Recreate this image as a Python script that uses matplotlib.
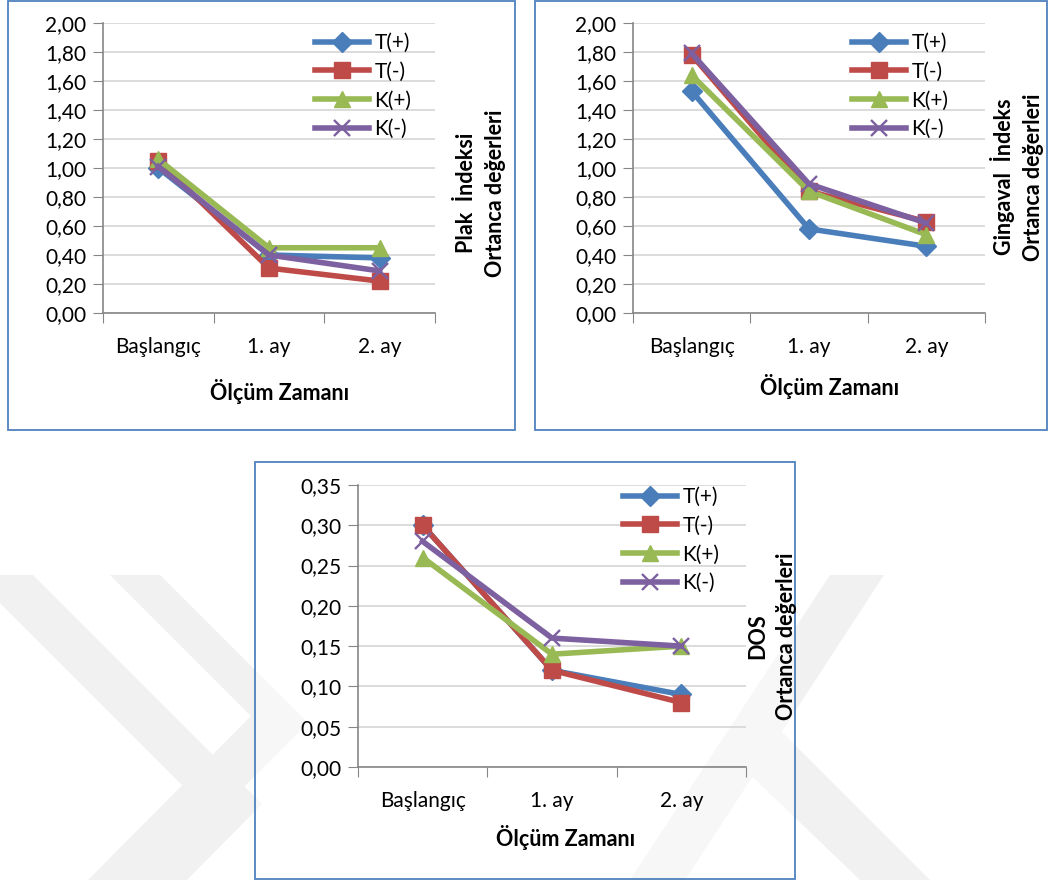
import numpy as np
import matplotlib
matplotlib.use("Agg")
from matplotlib import pyplot as plt
from matplotlib.patches import Rectangle, Polygon

plt.rcParams['font.family'] = ['Lato', 'DejaVu Sans']

categories = ["Başlangıç", "1. ay", "2. ay"]
series_names = ["T(+)", "T(-)", "K(+)", "K(-)"]

plak_tp = [1.00, 0.40, 0.38]
plak_tm = [1.05, 0.31, 0.22]
plak_kp = [1.06, 0.45, 0.45]
plak_km = [1.01, 0.40, 0.29]

ging_tp = [1.53, 0.58, 0.46]
ging_tm = [1.78, 0.84, 0.63]
ging_kp = [1.64, 0.84, 0.54]
ging_km = [1.79, 0.89, 0.62]

dos_tp = [0.30, 0.12, 0.09]
dos_tm = [0.30, 0.12, 0.08]
dos_kp = [0.26, 0.14, 0.15]
dos_km = [0.28, 0.16, 0.15]

colors = ["#4A7EBB", "#BE4B48", "#98B954", "#7D60A0"]
markers = ["D", "s", "^", "x"]
msizes = [10, 11, 11, 11]

W, H = 1050, 881
fig = plt.figure(figsize=(W / 100, H / 100), dpi=100)


def fpoly(pts, **kw):
    pts = [(x / W, 1 - y / H) for x, y in pts]
    fig.patches.append(Polygon(pts, closed=True, transform=fig.transFigure, **kw))


# faint watermark in the background
wm = dict(facecolor="#F1F1F1", edgecolor="none", zorder=-5)
fpoly([(0, 575), (33, 575), (262, 804), (187, 880), (110, 880), (193, 796), (0, 603)], **wm)
fpoly([(110, 575), (160, 575), (308, 723), (151, 880), (88, 880), (251, 716)], **wm)
fpoly([(830, 575), (884, 575), (685, 880), (630, 880)], **wm)
fpoly([(735, 760), (765, 715), (930, 880), (860, 880)], **wm)


def box(x0, y0, x1, y1, fc="none"):
    fig.patches.append(Rectangle((x0 / W, 1 - y1 / H), (x1 - x0) / W, (y1 - y0) / H,
                                 transform=fig.transFigure, facecolor=fc,
                                 edgecolor="#4F81BD", lw=1.3, zorder=-4))


def panel(rect, data, ymax, ystep, ylabel, ylab_xy, xlab_xy, leg_xy):
    x0, y0, x1, y1 = rect
    ax = fig.add_axes([x0 / W, 1 - y1 / H, (x1 - x0) / W, (y1 - y0) / H])
    xs = np.arange(len(categories)) + 0.5
    for vals, c, m, ms, name in zip(data, colors, markers, msizes, series_names):
        mew = 1.7 if m == "x" else 1
        ax.plot(xs, vals, color=c, lw=4, marker=m, ms=ms, mew=mew,
                mec=c, label=name, solid_joinstyle="round")
    ax.set_xlim(0, 3)
    ax.set_ylim(0, ymax)
    yt = np.arange(0, ymax + ystep / 2, ystep)
    ax.set_yticks(yt)
    ax.set_yticklabels(["{:.2f}".format(v).replace(".", ",") for v in yt], fontsize=15)
    ax.set_xticks([0, 1, 2, 3])
    ax.set_xticklabels([])
    ax.set_xticks(xs, minor=True)
    ax.set_xticklabels(categories, minor=True, fontsize=15)
    ax.tick_params(axis="x", which="minor", length=0, pad=17)
    ax.tick_params(axis="x", which="major", length=7, color="#868686", direction="out")
    ax.tick_params(axis="y", length=7, color="#868686", direction="out", pad=5)
    for s in ["top", "right"]:
        ax.spines[s].set_visible(False)
    for s in ["left", "bottom"]:
        ax.spines[s].set_color("#868686")
        ax.spines[s].set_linewidth(1.2)
    ax.yaxis.grid(True, color="#D9D9D9", lw=1.3)
    ax.set_axisbelow(True)
    ax.patch.set_alpha(0)
    ax.legend(loc="upper left", bbox_to_anchor=(leg_xy[0] / W, 1 - leg_xy[1] / H),
              bbox_transform=fig.transFigure, frameon=False, fontsize=15,
              handlelength=2.6, handletextpad=0.25, labelspacing=0.42,
              borderpad=0, borderaxespad=0)
    fig.text(ylab_xy[0] / W, 1 - ylab_xy[1] / H, ylabel, rotation=90,
             ha="center", va="center", fontsize=15.5, fontweight="bold",
             linespacing=1.45)
    fig.text(xlab_xy[0] / W, 1 - xlab_xy[1] / H, "Ölçüm Zamanı", ha="center",
             va="center", fontsize=15.5, fontweight="bold")
    return ax


box(8, 1, 515, 430, fc="white")
box(535, 1, 1047, 430, fc="white")
box(255, 462, 795, 879)
fig.patches.append(Rectangle((256 / W, 1 - 878 / H), 538 / W, 415 / H,
                             transform=fig.transFigure, facecolor="white",
                             edgecolor="none", alpha=0.45, zorder=-3))

panel((103, 23, 435, 313), [plak_tp, plak_tm, plak_kp, plak_km], 2.0, 0.2,
      "Plak  İndeksi\nOrtanca değerleri", (481, 193), (280, 392), (315, 33))
panel((633, 23, 985, 313), [ging_tp, ging_tm, ging_kp, ging_km], 2.0, 0.2,
      "Gingaval  İndeks\nOrtanca değerleri", (1017, 177), (830, 386), (852, 33))
panel((358, 485, 746, 767), [dos_tp, dos_tm, dos_kp, dos_km], 0.35, 0.05,
      "DOS\nOrtanca değerleri", (772, 636), (566, 838), (623, 487))

fig.savefig("out.png", dpi=100)
